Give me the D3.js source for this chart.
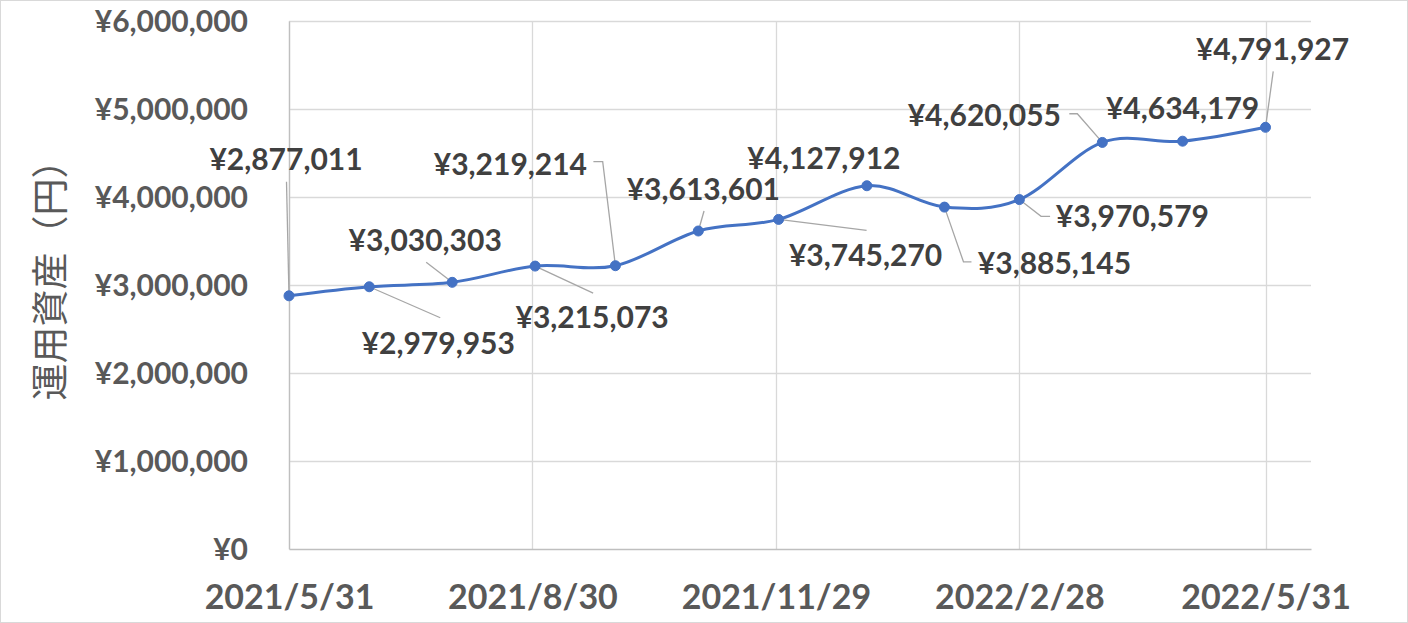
<!DOCTYPE html>
<html>
<head>
<meta charset="utf-8">
<script src="https://cdn.jsdelivr.net/npm/d3@7"></script>
<style>
  html, body { margin: 0; padding: 0; background: #fff; }
  svg { display: block; }
</style>
</head>
<body>
<svg id="chart" width="1408" height="623"></svg>
<script>
// ---- data ----
const dates = ["2021-05-31","2021-06-30","2021-07-31","2021-08-31","2021-09-30","2021-10-31",
               "2021-11-30","2022-01-02","2022-01-31","2022-02-28","2022-03-31","2022-04-30","2022-05-31"];
const values = [2877011, 2979953, 3030303, 3215073, 3219214, 3613601,
                3745270, 4127912, 3885145, 3970579, 4620055, 4634179, 4791927];
const yTicks = [0, 1000000, 2000000, 3000000, 4000000, 5000000, 6000000];
const xTickDates = ["2021-05-31","2021-08-30","2021-11-29","2022-02-28","2022-05-31"];
const xAxisMax = "2022-06-17";
const yTitle = "運用資産（円）";

// ---- layout for data labels (offsets from the point, px) ----
const labelOffsets = [[-3,-137],[69,56],[-27,-42],[57,51],[-105,-102],[5,-42],
                      [87,36],[-43,-28],[110,56],[113,17],[-118,-27],[0,-33],[7,-78]];
const leaderOffsets = [
  [[-2.5,-114]],
  [[71,31]],
  [[-26,-20]],
  [[58,27]],
  [[-12.7,-104],[-22,-104]],
  [[5.7,-20]],
  [[88,11]],
  null,
  [[19,54.7],[27,54.7]],
  [[21.7,16.7],[30.7,16.7]],
  [[-25,-28.7],[-33,-28.7]],
  null,
  [[7.7,-56]]
];

(function () {
const parse = d3.timeParse("%Y-%m-%d");
const data = dates.map((d, i) => ({ date: parse(d), value: values[i] }));

const svg = d3.select("#chart");
const W = 1408, H = 623;
const pLeft = 289, pRight = 1311, pTop = 21, pBottom = 549;

const FONT = "Lato, 'Noto Sans', sans-serif";

// outer border
svg.append("rect").attr("x", 0.5).attr("y", 0.5).attr("width", W - 1).attr("height", H - 1)
  .attr("fill", "#fff").attr("stroke", "#d9d9d9").attr("stroke-width", 1);

const x = d3.scaleTime().domain([parse(dates[0]), parse(xAxisMax)]).range([pLeft, pRight]);
const y = d3.scaleLinear().domain([0, 6000000]).range([pBottom, pTop]);

// horizontal gridlines
svg.append("g").selectAll("line").data(yTicks.filter(d => d > 0)).join("line")
  .attr("x1", pLeft).attr("x2", pRight)
  .attr("y1", d => Math.round(y(d)) + 0.5).attr("y2", d => Math.round(y(d)) + 0.5)
  .attr("stroke", "#d9d9d9").attr("stroke-width", 1.3);

// vertical gridlines
const xTicks = xTickDates.map(parse);
svg.append("g").selectAll("line").data(xTicks).join("line")
  .attr("x1", d => Math.round(x(d)) + 0.5).attr("x2", d => Math.round(x(d)) + 0.5)
  .attr("y1", pTop).attr("y2", pBottom)
  .attr("stroke", "#d9d9d9").attr("stroke-width", 1.3);

// y axis
const yAxis = svg.append("g").attr("transform", `translate(${pLeft},0)`)
  .call(d3.axisLeft(y).tickValues(yTicks).tickSize(0).tickPadding(41)
        .tickFormat(d => "¥" + d3.format(",")(d)));
yAxis.select(".domain").attr("stroke", "#bfbfbf").attr("stroke-width", 1.3);
yAxis.selectAll("text").attr("font-family", FONT).attr("font-weight", 700)
  .attr("font-size", 30).attr("fill", "#595959").attr("dy", "0.36em");

// x axis
const xAxis = svg.append("g").attr("transform", `translate(0,${pBottom})`)
  .call(d3.axisBottom(x).tickValues(xTicks).tickSize(0).tickPadding(0)
        .tickFormat(d3.timeFormat("%Y/%-m/%-d")));
xAxis.select(".domain").attr("stroke", "#bfbfbf").attr("stroke-width", 1.3);
xAxis.selectAll("text").attr("font-family", FONT).attr("font-weight", 700)
  .attr("font-size", 34).attr("fill", "#595959").attr("y", 60).attr("dy", 0);

// y title
svg.append("text")
  .attr("transform", `translate(${64},${271}) rotate(-90)`)
  .attr("text-anchor", "middle")
  .attr("font-family", "'Noto Sans CJK JP', sans-serif")
  .attr("font-size", 37).attr("fill", "#595959")
  .text(yTitle);

// line
const line = d3.line().x(d => x(d.date)).y(d => y(d.value)).curve(d3.curveCardinal.tension(0));
svg.append("path").datum(data).attr("d", line)
  .attr("fill", "none").attr("stroke", "#4472C4").attr("stroke-width", 3)
  .attr("stroke-linejoin", "round").attr("stroke-linecap", "round");

// leader lines
svg.append("g").selectAll("path").data(data.map((d, i) => ({ d, i })).filter(o => leaderOffsets[o.i]))
  .join("path")
  .attr("d", o => {
    const px = x(o.d.date), py = y(o.d.value);
    return "M" + px + "," + py + leaderOffsets[o.i].map(p => "L" + (px + p[0]) + "," + (py + p[1])).join("");
  })
  .attr("fill", "none").attr("stroke", "#a6a6a6").attr("stroke-width", 1.3);

// markers
svg.append("g").selectAll("circle").data(data).join("circle")
  .attr("cx", d => x(d.date)).attr("cy", d => y(d.value)).attr("r", 5)
  .attr("fill", "#4472C4").attr("stroke", "#4472C4").attr("stroke-width", 1);

// data labels
svg.append("g").selectAll("text").data(data).join("text")
  .attr("x", (d, i) => x(d.date) + labelOffsets[i][0])
  .attr("y", (d, i) => y(d.value) + labelOffsets[i][1])
  .attr("dy", "0.36em")
  .attr("text-anchor", "middle")
  .attr("font-family", FONT).attr("font-weight", 700)
  .attr("font-size", 30).attr("fill", "#404040")
  .text(d => "¥" + d3.format(",")(d.value));
})();
</script>
</body>
</html>
